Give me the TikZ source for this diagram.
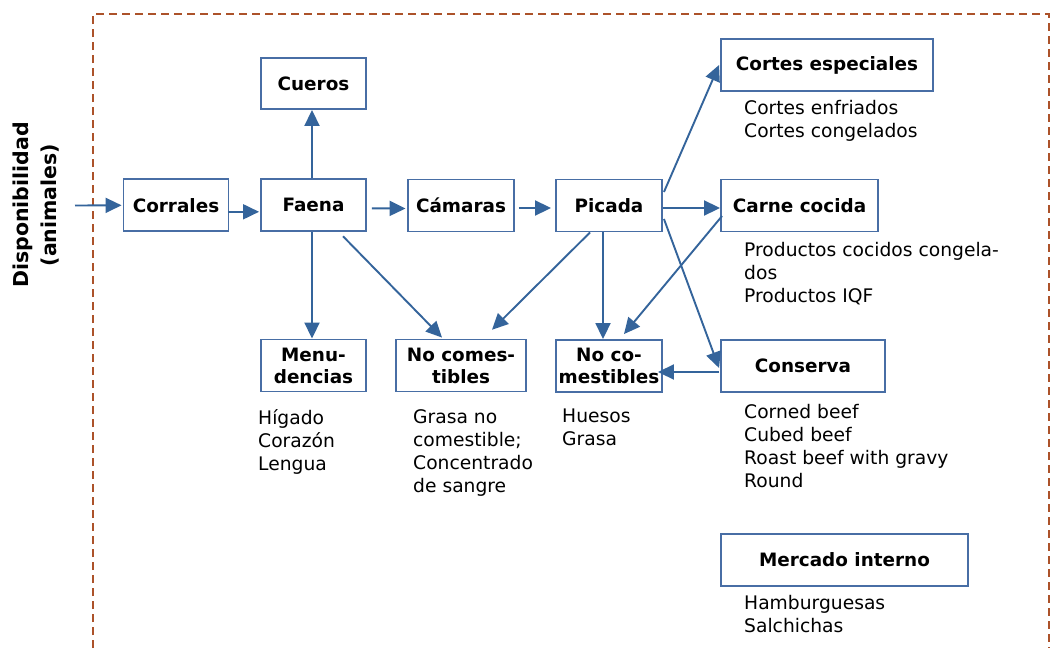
\documentclass[tikz,border=0pt]{standalone}
\usepackage{fontspec}
\setmainfont{DejaVu Sans}
\usetikzlibrary{arrows.meta}
\definecolor{boxc}{RGB}{72,110,165}
\definecolor{arrc}{RGB}{52,100,155}
\definecolor{dashc}{RGB}{172,82,42}
\begin{document}
\begin{tikzpicture}[x=1pt,y=-1pt,
  box/.style={draw=boxc,line width=1.9pt,inner sep=0pt,align=center,font=\fontsize{18.4}{22}\selectfont\bfseries,minimum height=52pt},
  arr/.style={draw=arrc,line width=1.9pt,-{Triangle[length=16pt,width=15pt]}},
  note/.style={inner sep=0pt,anchor=north west,align=left,font=\fontsize{18.7}{23}\selectfont}]
\useasboundingbox (0,0) rectangle (1051,648);
\fill[white] (0,0) rectangle (1051,648);
\draw[dashc,line width=1.5pt,dash pattern=on 8pt off 5pt] (93,648) -- (93,14) -- (1049,14) -- (1049,648);

\node[box,minimum width=105pt,minimum height=51pt] (cueros) at (313.5,83.5) {Cueros};
\node[box,minimum width=105pt] (corr) at (176,205.3) {Corrales};
\node[box,minimum width=105pt] (faena) at (313.5,205.3) {Faena};
\node[box,minimum width=106pt] (cam) at (461,205.5) {Cámaras};
\node[box,minimum width=106pt] (pic) at (609,205.5) {Picada};
\node[box,minimum width=212pt] (cortes) at (827,65) {Cortes especiales};
\node[box,minimum width=157pt] (carne) at (799.5,205.5) {Carne cocida};
\node[box,minimum width=105pt] (menu) at (313.5,365.5) {Menu-\\dencias};
\node[box,minimum width=130pt] (nc1) at (461,365.5) {No comes-\\tibles};
\node[box,minimum width=106pt] (nc2) at (609,366) {No co-\\mestibles};
\node[box,minimum width=164pt] (cons) at (803,366) {Conserva};
\node[box,minimum width=247pt] (merc) at (844.5,560) {Mercado interno};

\node[note] (tcortes) at (744,100) {Cortes enfriados\\Cortes congelados};
\node[note] (tcarne) at (744,242) {Productos cocidos congela-\\dos\\Productos IQF};
\node[note] (tcons) at (744,404) {Corned beef\\Cubed beef\\Roast beef with gravy\\Round};
\node[note] (tmerc) at (744,595) {Hamburguesas\\Salchichas};
\node[note] (tmenu) at (258,409) {Hígado\\Corazón\\Lengua};
\node[note] (tnc1) at (413,409) {Grasa no\\comestible;\\Concentrado\\de sangre};
\node[note] (tnc2) at (562,409) {Huesos\\Grasa};

\node[rotate=90,align=center,inner sep=0pt,font=\fontsize{20.5}{28}\selectfont\bfseries] (disp) at (36,205) {Disponibilidad\\(animales)};
\coordinate (src) at (75,205.5);

\draw[arr] (src) -- ([xshift=-1]corr.west);
\draw[arr] ([xshift=-1.5,yshift=-6.5]corr.east) -- ([xshift=-1,yshift=-6.5]faena.west);
\draw[arr] ([xshift=-1.5]faena.north) -- ([xshift=-1.5]cueros.south);
\draw[arr] ([xshift=5,yshift=-3]faena.east) -- ([xshift=-1.5,yshift=-3]cam.west);
\draw[arr] ([xshift=4,yshift=-2.5]cam.east) -- ([xshift=-4,yshift=-2.5]pic.west);
\draw[arr] ([xshift=-1.5]faena.south) -- ([xshift=-1.5]menu.north);
\draw[arr] ([xshift=29.5,yshift=-4]faena.south) -- ([xshift=-19,yshift=1]nc1.north);
\draw[arr] ([xshift=-19]pic.south) -- ([xshift=31,yshift=8.8]nc1.north);
\draw[arr] ([xshift=-6]pic.south) -- ([xshift=-6]nc2.north);
\draw[arr] ([xshift=2,yshift=-10.5]carne.west) -- ([xshift=15,yshift=5]nc2.north);
\draw[arr] ([xshift=1,yshift=-13.5]pic.east) -- ([xshift=-1,yshift=-2]cons.west);
\draw[arr] ([xshift=1,yshift=13.5]pic.east) -- ([xshift=-1]cortes.west);
\draw[arr] ([yshift=-2.5]pic.east) -- ([yshift=-2.5]carne.west);
\draw[arr] ([xshift=-1,yshift=-6]cons.west) -- ([xshift=-5,yshift=-6]nc2.east);
\end{tikzpicture}
\end{document}
